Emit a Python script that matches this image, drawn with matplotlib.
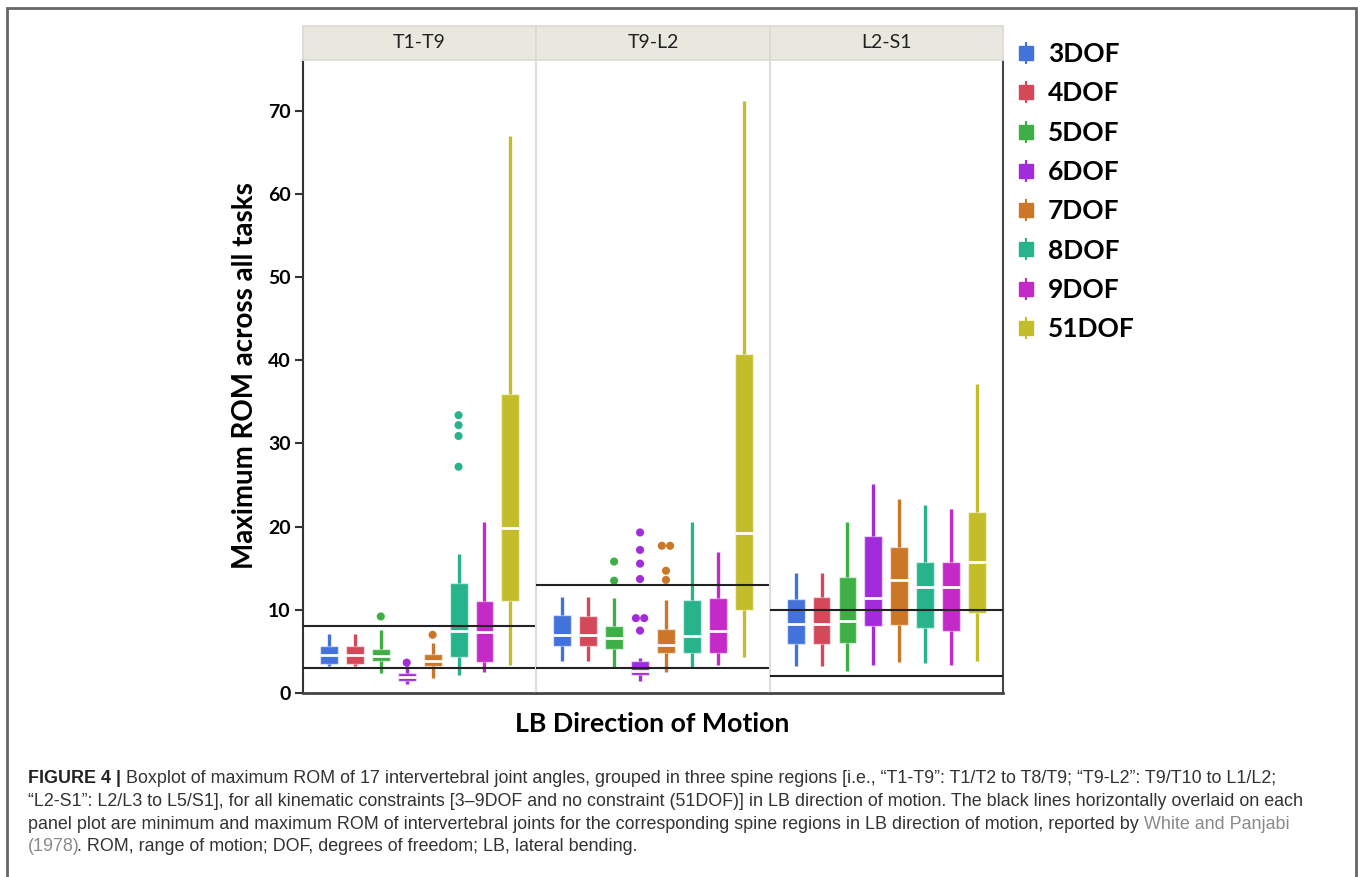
import numpy as np
import matplotlib.pyplot as plt
from matplotlib.lines import Line2D
from matplotlib.patches import Rectangle
from matplotlib.legend_handler import HandlerTuple

plt.rcParams['font.family'] = ['Lato', 'DejaVu Sans']

regions = ["T1-T9", "T9-L2", "L2-S1"]
dofs = ["3DOF", "4DOF", "5DOF", "6DOF", "7DOF", "8DOF", "9DOF", "51DOF"]
colors = ["#4472DC", "#D4485A", "#3DAF45", "#A22BDC",
          "#CC7628", "#27B48C", "#C42AC8", "#C3BD2A"]

# box statistics per region, one value per DOF (degrees)
t1t9_low = [3.3, 3.3, 2.4, 1.1, 1.85, 2.2, 2.5, 3.4]
t1t9_q1 = [3.5, 3.5, 3.8, 1.5, 3.2, 4.3, 3.7, 11.1]
t1t9_med = [4.6, 4.6, 4.4, 1.9, 3.8, 7.5, 7.3, 19.8]
t1t9_q3 = [5.7, 5.7, 5.3, 2.4, 4.65, 13.2, 11.1, 36.0]
t1t9_high = [7.1, 7.1, 7.6, 3.2, 6.0, 16.7, 20.5, 67.0]
t1t9_out = [[], [], [9.2], [3.65], [7.0], [27.2, 30.9, 32.2, 33.4], [], []]

t9l2_low = [3.9, 3.9, 3.0, 1.4, 2.5, 3.0, 3.4, 4.3]
t9l2_q1 = [5.7, 5.7, 5.3, 2.2, 4.85, 4.85, 4.85, 10.0]
t9l2_med = [7.0, 7.0, 6.6, 2.7, 5.8, 6.8, 7.5, 19.2]
t9l2_q3 = [9.4, 9.3, 8.0, 3.9, 7.65, 11.2, 11.4, 40.7]
t9l2_high = [11.55, 11.55, 11.4, 4.25, 11.2, 20.5, 16.9, 71.2]
t9l2_out = [[], [], [13.5, 15.8], [7.5, 9.0, 9.0, 13.7, 15.55, 17.2, 19.3],
            [13.6, 14.7, 17.7, 17.7], [], [], []]

l2s1_low = [3.25, 3.25, 2.7, 3.4, 3.7, 3.55, 3.4, 3.8]
l2s1_q1 = [5.9, 5.9, 6.05, 8.0, 8.2, 7.85, 7.5, 9.65]
l2s1_med = [8.3, 8.3, 8.6, 11.4, 13.6, 12.8, 12.8, 15.8]
l2s1_q3 = [11.35, 11.5, 14.0, 18.9, 17.6, 15.8, 15.7, 21.7]
l2s1_high = [14.4, 14.4, 20.5, 25.1, 23.3, 22.6, 22.1, 37.1]
l2s1_out = [[], [], [], [], [], [], [], []]

# White and Panjabi (1978) min / max ROM per region
ref_lines = [[3, 8], [3, 13], [2, 10]]

stats_all = [
    (t1t9_low, t1t9_q1, t1t9_med, t1t9_q3, t1t9_high, t1t9_out),
    (t9l2_low, t9l2_q1, t9l2_med, t9l2_q3, t9l2_high, t9l2_out),
    (l2s1_low, l2s1_q1, l2s1_med, l2s1_q3, l2s1_high, l2s1_out),
]

W, H = 1358, 877
fig = plt.figure(figsize=(W / 100, H / 100), dpi=100)


def fx(px):
    return px / W


def fy(py):
    return 1 - py / H


left0, pw = 303, 700 / 3
top, bottom = 60, 693

for r, name in enumerate(regions):
    ax = fig.add_axes([fx(left0 + r * pw), fy(bottom), pw / W, (bottom - top) / H])
    low, q1, med, q3, high, out = stats_all[r]
    for i in range(len(dofs)):
        st = dict(med=med[i], q1=q1[i], q3=q3[i], whislo=low[i], whishi=high[i], fliers=[])
        ax.bxp([st], positions=[i + 1], widths=0.69, patch_artist=True,
               showcaps=False, showfliers=False,
               boxprops=dict(facecolor=colors[i], edgecolor=(1, 1, 1, 0.55), linewidth=1),
               whiskerprops=dict(color=colors[i], linewidth=2.4, solid_capstyle='butt'),
               medianprops=dict(color='white', linewidth=2))
        if out[i]:
            vals = np.array(out[i])
            xs = np.full(len(vals), i + 1.0)
            for v in np.unique(vals):
                idx = np.where(vals == v)[0]
                if len(idx) > 1:
                    xs[idx] += (np.arange(len(idx)) - (len(idx) - 1) / 2) * 0.32
            ax.scatter(xs, vals, s=34, color=colors[i], edgecolors='none', zorder=4)
    for v in ref_lines[r]:
        ax.axhline(v, color='#222222', lw=1.5, zorder=5)

    ax.set_xlim(0, 9)
    ax.set_ylim(0, 76.1)
    ax.set_xticks([])
    ax.spines['top'].set_visible(False)
    ax.spines['bottom'].set_color('#444444')
    ax.spines['bottom'].set_linewidth(2)
    if r == 0:
        ax.spines['left'].set_color('#333333')
        ax.spines['left'].set_linewidth(1.5)
        ax.set_yticks(range(0, 71, 10))
        ax.tick_params(axis='y', length=6, width=1.5, color='#333333', labelsize=14, pad=3)
        plt.setp(ax.get_yticklabels(), fontweight='bold')
    else:
        ax.spines['left'].set_color('#DDDDDD')
        ax.spines['left'].set_linewidth(1.5)
        ax.set_yticks([])
    if r == 2:
        ax.spines['right'].set_color('#444444')
        ax.spines['right'].set_linewidth(1.5)
    else:
        ax.spines['right'].set_visible(False)

    hx = fig.add_axes([fx(left0 + r * pw), fy(top), pw / W, (top - 26) / H])
    hx.set_facecolor('#E8E8DF')
    hx.set_xticks([])
    hx.set_yticks([])
    for s in hx.spines.values():
        s.set_color('#DADAD2')
        s.set_linewidth(1.2)
    hx.text(0.5, 0.5, name, ha='center', va='center', fontsize=14, color='#222222',
            transform=hx.transAxes)

fig.text(fx(245), fy(376), "Maximum ROM across all tasks", rotation=90,
         ha='center', va='center', fontsize=20, fontweight='bold')
fig.text(fx(652), fy(724), "LB Direction of Motion",
         ha='center', va='center', fontsize=19.3, fontweight='bold')

handles = [(Line2D([], [], marker='|', markersize=16, mew=1.5, color=c, linestyle='none'),
            Line2D([], [], marker='s', markersize=9.5, color=c, linestyle='none'))
           for c in colors]
fig.legend(handles, dofs, loc='upper left', bbox_to_anchor=(fx(1002), fy(29)),
           frameon=False, handler_map={tuple: HandlerTuple(ndivide=1)},
           prop=dict(family='Lato', weight='bold', size=19),
           handlelength=0.85, handletextpad=0.4, labelspacing=0.58, borderpad=0)

# outer frame
fig.patches.append(Rectangle((fx(7), fy(890)), fx(1356) - fx(7), fy(8) - fy(890),
                             transform=fig.transFigure, fill=False,
                             edgecolor='#666666', lw=2))

# caption
renderer = fig.canvas.get_renderer()
cap_font = ['Liberation Sans', 'DejaVu Sans']
dark, grey = '#333333', '#8A8A8A'


def draw_line(x0, ybase, segments):
    x = fx(x0)
    for txt, kw, trim in segments:
        t = fig.text(x, fy(ybase), txt, ha='left', va='baseline', fontsize=12.9,
                     family=cap_font, **kw)
        x += (t.get_window_extent(renderer).width - trim) / W


draw_line(28, 783, [("FIGURE 4 | ", dict(fontweight='bold', color='#222222'), 0),
                    ("Boxplot of maximum ROM of 17 intervertebral joint angles, grouped in three "
                     "spine regions [i.e., \u201cT1-T9\u201d: T1/T2 to T8/T9; \u201cT9-L2\u201d: "
                     "T9/T10 to L1/L2;", dict(color=dark), 0)])
draw_line(28, 806, [("\u201cL2-S1\u201d: L2/L3 to L5/S1], for all kinematic constraints "
                     "[3\u20139DOF and no constraint (51DOF)] in LB direction of motion. The black "
                     "lines horizontally overlaid on each", dict(color=dark), 0)])
draw_line(28, 829, [("panel plot are minimum and maximum ROM of intervertebral joints for the "
                     "corresponding spine regions in LB direction of motion, reported by ",
                     dict(color=dark), 0),
                    ("White and Panjabi", dict(color=grey), 0)])
draw_line(28, 851, [("(1978)", dict(color=grey), 2.5),
                    (". ROM, range of motion; DOF, degrees of freedom; LB, lateral bending.",
                     dict(color=dark), 0)])

fig.savefig("out.png", dpi=100)
